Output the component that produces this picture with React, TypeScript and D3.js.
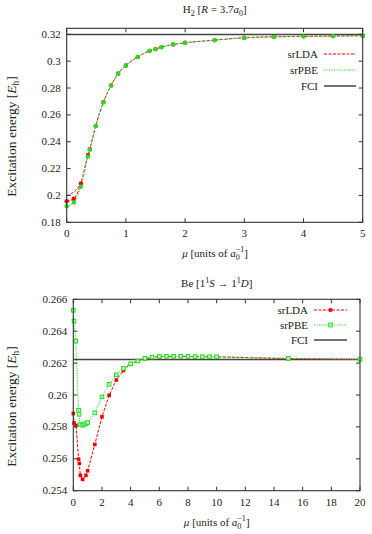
import React from 'react';
import * as d3 from 'd3';

// H2 [R = 3.7 a0]
const h2Mu = [0, 0.12, 0.24, 0.36, 0.39, 0.49, 0.62, 0.75, 0.87, 1.0, 1.2, 1.4, 1.5, 1.6, 1.8, 2.0, 2.5, 3.0, 3.5, 4.0, 4.5, 5.0];
const h2SrLda = [0.1957, 0.1975, 0.209, 0.2302, 0.2345, 0.2518, 0.2695, 0.282, 0.2908, 0.2968, 0.3032, 0.3077, 0.309, 0.3105, 0.3125, 0.3137, 0.3157, 0.3175, 0.3182, 0.3185, 0.3187, 0.319];
const h2SrPbe = [0.192, 0.1948, 0.2065, 0.229, 0.234, 0.2515, 0.2693, 0.2818, 0.2906, 0.2967, 0.3031, 0.3076, 0.309, 0.3104, 0.3124, 0.3136, 0.3156, 0.3174, 0.3181, 0.3185, 0.3187, 0.319];
// upper srLDA curve at small mu
const h2LdaUpperMu = [0, 0.084, 0.17, 0.24];
const h2LdaUpper = [0.1998, 0.2015, 0.2045, 0.209];
const h2Fci = 0.3199;
const h2XTicks = [0, 1, 2, 3, 4, 5];
const h2YTicks = [0.18, 0.2, 0.22, 0.24, 0.26, 0.28, 0.3, 0.32];

// Be [1^1S -> 1^1D]
const beLdaMu = [0, 0.05, 0.19, 0.37, 0.42, 0.49, 0.65, 0.88, 1.0, 1.5, 2.0, 2.5, 3.0, 3.5, 4.0, 4.5, 5.0, 5.5, 6.0, 6.5, 7.0, 7.5, 8.0, 8.5, 9.0, 9.5, 10, 15, 20];
const beSrLda = [0.25884, 0.25825, 0.2581, 0.25598, 0.25571, 0.25496, 0.25471, 0.25496, 0.25525, 0.2569, 0.25863, 0.25998, 0.26094, 0.26154, 0.26196, 0.26213, 0.26228, 0.26236, 0.2624, 0.26242, 0.26242, 0.26242, 0.26241, 0.2624, 0.2624, 0.2624, 0.26239, 0.26228, 0.26223];
const bePbeMu = [0, 0.05, 0.17, 0.37, 0.4, 0.47, 0.65, 0.77, 0.88, 1.0, 1.5, 2.0, 2.5, 3.0, 3.5, 4.0, 4.5, 5.0, 5.5, 6.0, 6.5, 7.0, 7.5, 8.0, 8.5, 9.0, 9.5, 10, 15, 20];
const beSrPbe = [0.26531, 0.26463, 0.26338, 0.25904, 0.25879, 0.25815, 0.2581, 0.25817, 0.2582, 0.25827, 0.25888, 0.25988, 0.26067, 0.26127, 0.26167, 0.26196, 0.26213, 0.2623, 0.26238, 0.26242, 0.26243, 0.26243, 0.26243, 0.26242, 0.26241, 0.2624, 0.2624, 0.2624, 0.2623, 0.26224];
const beFci = 0.26222;
const beXTicks = [0, 2, 4, 6, 8, 10, 12, 14, 16, 18, 20];
const beYTicks = [0.254, 0.256, 0.258, 0.26, 0.262, 0.264, 0.266];

const RED = '#f00000';
const GREEN = '#22e022';
const AXIS = '#333';
const FONT = "'Liberation Serif', 'DejaVu Serif', serif";

type Pt = [number, number];
const zip = (a: number[], b: number[]): Pt[] => a.map((v, i) => [v, b[i]]);

function Frame({ x, y, xTicks, yTicks, tick }: any) {
  const [x0, x1] = x.range();
  const [y0, y1] = y.range();
  const fmt = (v: number) => String(+v.toFixed(4));
  return (
    <g>
      {xTicks.map((t: number) => (
        <g key={'x' + t}>
          <line x1={x(t)} x2={x(t)} y1={y0} y2={y0 - tick} stroke={AXIS} />
          <line x1={x(t)} x2={x(t)} y1={y1} y2={y1 + tick} stroke={AXIS} />
          <text x={x(t)} y={y0 + 15} textAnchor="middle" fontSize={11} fill="#222">{fmt(t)}</text>
        </g>
      ))}
      {yTicks.map((t: number) => (
        <g key={'y' + t}>
          <line x1={x0} x2={x0 + tick} y1={y(t)} y2={y(t)} stroke={AXIS} />
          <line x1={x1} x2={x1 - tick} y1={y(t)} y2={y(t)} stroke={AXIS} />
          <text x={x0 - 6} y={y(t) + 3.5} textAnchor="end" fontSize={11} fill="#222">{fmt(t)}</text>
        </g>
      ))}
      <rect x={x0} y={y1} width={x1 - x0} height={y0 - y1} fill="none" stroke={AXIS} strokeWidth={1.1} />
    </g>
  );
}

function XLabel({ cx, y }: { cx: number; y: number }) {
  return (
    <text x={cx} y={y} textAnchor="middle" fontSize={11} fill="#222">
      <tspan fontStyle="italic">μ</tspan> [units of <tspan fontStyle="italic">a</tspan>
      <tspan fontSize={8} dy={3}>0</tspan>
      <tspan fontSize={8} dx={-4} dy={-8}>−1</tspan>
      <tspan dy={5}>]</tspan>
    </text>
  );
}

function YLabel({ x, cy }: { x: number; cy: number }) {
  return (
    <text transform={`translate(${x},${cy}) rotate(-90)`} textAnchor="middle" fontSize={13.5} fill="#222">
      Excitation energy [<tspan fontStyle="italic">E</tspan>
      <tspan fontSize={9.5} dy={3}>h</tspan>
      <tspan dy={-3}>]</tspan>
    </text>
  );
}

function H2Panel() {
  const x = d3.scaleLinear().domain([0, 5]).range([66.7, 362.7]);
  const y = d3.scaleLinear().domain([0.18, 0.3245]).range([222.3, 28.3]);
  const line = d3.line<Pt>().x(d => x(d[0])).y(d => y(d[1])).curve(d3.curveMonotoneX);
  const lda = zip(h2Mu, h2SrLda);
  const pbe = zip(h2Mu, h2SrPbe);
  const upper = zip(h2LdaUpperMu, h2LdaUpper);
  const lx = 324, lx2 = 356, tx = 318;
  return (
    <g>
      <text x={214.7} y={13} textAnchor="middle" fontSize={11} fill="#222">
        H<tspan fontSize={8} dy={2.5}>2</tspan><tspan dy={-2.5}> [</tspan>
        <tspan fontStyle="italic">R</tspan> = 3.7<tspan fontStyle="italic">a</tspan>
        <tspan fontSize={8} dy={2.5}>0</tspan><tspan dy={-2.5}>]</tspan>
      </text>
      <line x1={x(0)} x2={x(5)} y1={y(h2Fci)} y2={y(h2Fci)} stroke="#444" strokeWidth={1.5} />
      <path d={line(lda) || ''} fill="none" stroke={RED} strokeWidth={1} strokeDasharray="3,1.5" />
      <path d={line(upper) || ''} fill="none" stroke={RED} strokeWidth={1} strokeDasharray="3,1.5" />
      <path d={line(pbe) || ''} fill="none" stroke={GREEN} strokeWidth={1} strokeDasharray="1.2,1.3" />
      {lda.map((d, i) => <circle key={'l' + i} cx={x(d[0])} cy={y(d[1])} r={2.2} fill={RED} />)}
      {pbe.map((d, i) => <circle key={'p' + i} cx={x(d[0])} cy={y(d[1])} r={2.2} fill={GREEN} />)}
      <Frame x={x} y={y} xTicks={h2XTicks} yTicks={h2YTicks} tick={4} />
      <text x={tx} y={57.5} textAnchor="end" fontSize={11} fill="#222">srLDA</text>
      <line x1={lx} x2={lx2} y1={54} y2={54} stroke={RED} strokeDasharray="3,1.5" />
      <text x={tx} y={73.5} textAnchor="end" fontSize={11} fill="#222">srPBE</text>
      <line x1={lx} x2={lx2} y1={70} y2={70} stroke={GREEN} strokeDasharray="1.2,1.3" />
      <text x={tx} y={89.5} textAnchor="end" fontSize={11} fill="#222">FCI</text>
      <line x1={lx} x2={lx2} y1={86} y2={86} stroke="#444" strokeWidth={1.5} />
      <XLabel cx={215} y={257} />
      <YLabel x={16} cy={136.5} />
    </g>
  );
}

function BePanel() {
  const x = d3.scaleLinear().domain([0, 20]).range([73.3, 360]);
  const y = d3.scaleLinear().domain([0.254, 0.266]).range([490.7, 299.3]);
  const line = d3.line<Pt>().x(d => x(d[0])).y(d => y(d[1]));
  const lda = zip(beLdaMu, beSrLda);
  const pbe = zip(bePbeMu, beSrPbe);
  const lx = 314, lx2 = 347, tx = 308;
  const s = 3.6;
  return (
    <g>
      <text x={216.7} y={287} textAnchor="middle" fontSize={11} fill="#222">
        Be [1<tspan fontSize={8} dy={-4}>1</tspan><tspan fontStyle="italic" dy={4}>S</tspan> → 1
        <tspan fontSize={8} dy={-4}>1</tspan><tspan fontStyle="italic" dy={4}>D</tspan>]
      </text>
      <line x1={x(0)} x2={x(20)} y1={y(beFci)} y2={y(beFci)} stroke="#444" strokeWidth={1.5} />
      <path d={line(lda) || ''} fill="none" stroke={RED} strokeWidth={1} strokeDasharray="3,1.5" />
      <path d={line(pbe) || ''} fill="none" stroke={GREEN} strokeWidth={1} strokeDasharray="1.2,1.3" />
      {lda.map((d, i) => <rect key={'l' + i} x={x(d[0]) - s / 2} y={y(d[1]) - s / 2} width={s} height={s} fill={RED} />)}
      {pbe.map((d, i) => <rect key={'p' + i} x={x(d[0]) - s / 2} y={y(d[1]) - s / 2} width={s} height={s} fill="#bff5bf" stroke={GREEN} strokeWidth={1} />)}
      <Frame x={x} y={y} xTicks={beXTicks} yTicks={beYTicks} tick={4} />
      <text x={tx} y={313.5} textAnchor="end" fontSize={11} fill="#222">srLDA</text>
      <line x1={lx} x2={lx2} y1={310} y2={310} stroke={RED} strokeDasharray="3,1.5" />
      <rect x={330.5 - s / 2} y={310 - s / 2} width={s} height={s} fill={RED} />
      <text x={tx} y={328.5} textAnchor="end" fontSize={11} fill="#222">srPBE</text>
      <line x1={lx} x2={lx2} y1={325} y2={325} stroke={GREEN} strokeDasharray="1.2,1.3" />
      <rect x={330.5 - s / 2} y={325 - s / 2} width={s} height={s} fill="#bff5bf" stroke={GREEN} />
      <text x={tx} y={343.5} textAnchor="end" fontSize={11} fill="#222">FCI</text>
      <line x1={lx} x2={lx2} y1={340} y2={340} stroke="#444" strokeWidth={1.5} />
      <XLabel cx={216.7} y={526} />
      <YLabel x={16} cy={406.5} />
    </g>
  );
}

export default function App() {
  return (
    <svg width={372} height={534} style={{ position: 'absolute', left: 0, top: 0, background: '#fff', fontFamily: FONT }}>
      <H2Panel />
      <BePanel />
    </svg>
  );
}
